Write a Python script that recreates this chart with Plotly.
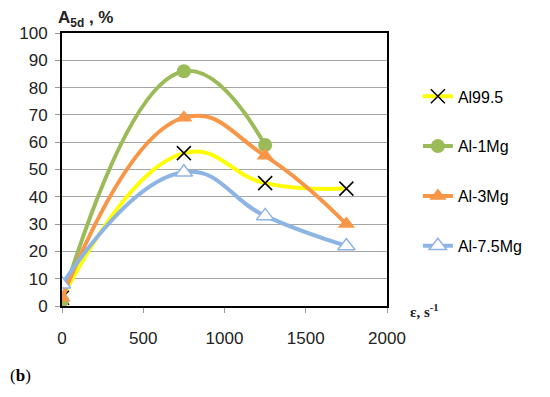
import plotly.graph_objects as go

strain_rate = [0, 750, 1250, 1750]
al995 = [3, 56, 45, 43]
al1mg_x = [0, 750, 1250]
al1mg = [2, 86, 59]
al3mg = [3, 69, 55, 30]
al75mg = [8, 49, 33, 22]

x_ticks = [0, 500, 1000, 1500, 2000]
y_ticks = list(range(0, 101, 10))

SM = 1.3
fig = go.Figure()
fig.add_trace(go.Scatter(x=strain_rate, y=al995, name="Al99.5", mode="lines+markers",
    line=dict(color="#FFFF00", width=4, shape="spline", smoothing=SM),
    marker=dict(symbol="x-thin", size=14, color="black", line=dict(color="black", width=1.5)),
    legendgroup="a"))
fig.add_trace(go.Scatter(x=al1mg_x, y=al1mg, name="Al-1Mg", mode="lines+markers",
    line=dict(color="#9BBB59", width=4, shape="spline", smoothing=SM),
    marker=dict(symbol="circle", size=14, color="#9BBB59"),
    legendgroup="b"))
fig.add_trace(go.Scatter(x=strain_rate, y=al3mg, name="Al-3Mg", mode="lines+markers",
    line=dict(color="#F79646", width=4, shape="spline", smoothing=SM),
    marker=dict(symbol="triangle-up", size=15, color="#F79646"),
    legendgroup="c"))
fig.add_trace(go.Scatter(x=strain_rate, y=al75mg, name="Al-7.5Mg", mode="lines+markers",
    line=dict(color="#8EB4E3", width=4, shape="spline", smoothing=SM),
    marker=dict(symbol="triangle-up", size=15, color="white", line=dict(color="#8EB4E3", width=1.5)),
    legendgroup="d"))

tickfont = dict(size=17, family="Liberation Sans, Arial, sans-serif", color="#222")
fig.update_layout(
    width=550, height=397,
    margin=dict(l=54, r=171, t=25, b=99, autoexpand=False),
    paper_bgcolor="white", plot_bgcolor="white",
    font=dict(family="Liberation Sans, Arial, sans-serif", size=16, color="#222"),
    showlegend=True,
    legend=dict(x=1.095, y=0.83, xanchor="left", yanchor="top",
                font=dict(size=16, color="black"), tracegroupgap=26,
                bgcolor="rgba(0,0,0,0)"),
    xaxis=dict(range=[0, 2000], tickvals=x_ticks, showgrid=False, zeroline=False,
               showline=True, linecolor="black", linewidth=2, mirror=True, automargin=False,
               ticks="outside", ticklen=5, tickcolor="#999", ticklabelstandoff=11,
               tickfont=tickfont),
    yaxis=dict(range=[0, 100], tickvals=y_ticks, showgrid=True, gridcolor="#A6A6A6", gridwidth=1.2,
               zeroline=False, showline=True, linecolor="black", linewidth=2, mirror=True,
               automargin=False,
               ticks="outside", ticklen=5, tickcolor="#999", ticklabelstandoff=4,
               tickfont=tickfont),
    annotations=[
        dict(text="<b>A<sub>5d</sub> , %</b>", xref="paper", yref="paper", x=-0.018, y=1.0,
             xanchor="left", yanchor="bottom", showarrow=False, yshift=1,
             font=dict(size=17, color="#222")),
        dict(text="<b>ε, s<sup>-1</sup></b>", xref="paper", yref="paper", x=1.065, y=-0.02,
             xanchor="left", yanchor="middle", showarrow=False,
             font=dict(size=15, family="Liberation Serif, serif", color="#222")),
        dict(text="(<b>b</b>)", xref="paper", yref="paper", x=-0.165, y=-0.253,
             xanchor="left", yanchor="middle", showarrow=False,
             font=dict(size=17, family="Liberation Serif, serif", color="black")),
    ],
)

fig.write_html("out.html")
